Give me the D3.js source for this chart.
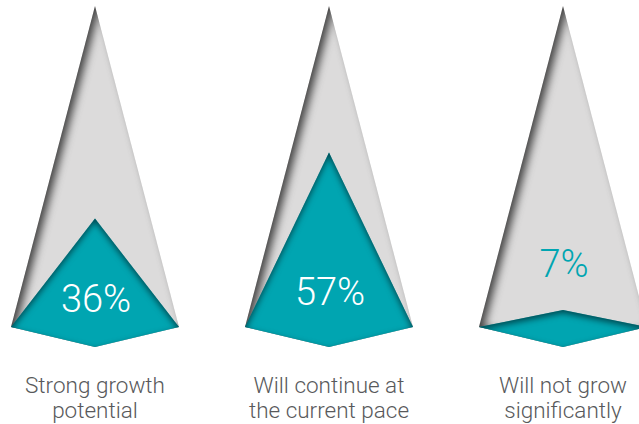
<!DOCTYPE html>
<html>
<head>
<meta charset="utf-8">
<script src="https://cdn.jsdelivr.net/npm/d3@7"></script>
<style>
  html, body { margin: 0; padding: 0; background: #ffffff; }
  svg { display: block; }
</style>
</head>
<body>
<svg id="chart" width="639" height="424"></svg>
<script>
// Outlook on growth: share of respondents per answer
const categories = ["Strong growth potential", "Will continue at the current pace", "Will not grow significantly"];
const labelLines = [["Strong growth", "potential"], ["Will continue at", "the current pace"], ["Will not grow", "significantly"]];
const values = [36, 57, 7];
const valueLabels = ["36%", "57%", "7%"];

const width = 639, height = 424;
const svg = d3.select("#chart");

const GRAY = "#dcdbdb";
const TEAL = "#00a5b1";
const TEXT = "#58595b";

// Pyramid geometry
const halfW = 84;       // half the base width
const baseY = 327;      // y of the left/right base corners
const frontY = 347;     // y of the front base corner
const apexY = 6;        // y of the tip

const x = d3.scalePoint().domain(categories).range([95, 563]);
// fill level: percentage -> y of the teal tip on the pyramid's centre line
const y = d3.scaleLinear().domain([0, 100]).range([332, 17]);

// Inner shadow filters (shadow cast inward from the shape's edges)
const defs = svg.append("defs");
function innerShadow(id, dx, dy, blur, color, opacity) {
  const f = defs.append("filter").attr("id", id)
    .attr("filterUnits", "userSpaceOnUse")
    .attr("x", -50).attr("y", -50).attr("width", width + 100).attr("height", height + 100)
    .attr("color-interpolation-filters", "sRGB");
  f.append("feFlood").attr("flood-color", "#000").attr("flood-opacity", 1).attr("result", "full");
  f.append("feComposite").attr("in", "full").attr("in2", "SourceAlpha").attr("operator", "out").attr("result", "inv");
  f.append("feGaussianBlur").attr("in", "inv").attr("stdDeviation", blur).attr("result", "blur");
  f.append("feOffset").attr("in", "blur").attr("dx", dx).attr("dy", dy).attr("result", "off");
  f.append("feFlood").attr("flood-color", color).attr("flood-opacity", opacity).attr("result", "col");
  f.append("feComposite").attr("in", "col").attr("in2", "off").attr("operator", "in").attr("result", "shadow");
  f.append("feComposite").attr("in", "shadow").attr("in2", "SourceAlpha").attr("operator", "in").attr("result", "inner");
  const m = f.append("feMerge");
  m.append("feMergeNode").attr("in", "SourceGraphic");
  m.append("feMergeNode").attr("in", "inner");
}
innerShadow("shadeGray", 5, 0, 4, "#262626", 0.85);
innerShadow("shadeTeal", 0, 3, 3, "#00333a", 0.8);

const line = d3.line();

const g = svg.selectAll("g.pyramid")
  .data(categories.map((c, i) => ({ c, i, v: values[i], label: valueLabels[i], lines: labelLines[i] })))
  .join("g")
  .attr("class", "pyramid");

// gray body of the pyramid
g.append("path")
  .attr("d", d => {
    const cx = x(d.c);
    return line([[cx - halfW, baseY], [cx, apexY], [cx + halfW, baseY], [cx, frontY]]) + "Z";
  })
  .attr("fill", GRAY)
  .attr("filter", "url(#shadeGray)");

// teal fill level
g.append("path")
  .attr("d", d => {
    const cx = x(d.c);
    return line([[cx - halfW, baseY], [cx, y(d.v)], [cx + halfW, baseY], [cx, frontY]]) + "Z";
  })
  .attr("fill", TEAL)
  .attr("filter", "url(#shadeTeal)");

// percentage labels: inside the teal when there is room, above it otherwise
g.append("text")
  .attr("x", d => x(d.c) + 1)
  .attr("y", d => d.v > 20 ? 324 - d.v / 3 : y(d.v) - 33)
  .attr("text-anchor", "middle")
  .attr("font-family", "Roboto, 'Noto Sans', sans-serif")
  .attr("font-weight", 300)
  .attr("font-size", 38)
  .attr("fill", d => d.v > 20 ? "#ffffff" : TEAL)
  .text(d => d.label);

// category labels
const cat = g.append("text")
  .attr("text-anchor", "middle")
  .attr("font-family", "Roboto, 'Noto Sans', sans-serif")
  .attr("font-weight", 300)
  .attr("font-size", 22.5)
  .attr("fill", TEXT);
cat.selectAll("tspan")
  .data(d => d.lines.map(t => ({ t, cx: x(d.c) })))
  .join("tspan")
  .attr("x", d => d.cx)
  .attr("y", (d, j) => 393 + j * 25)
  .text(d => d.t);
</script>
</body>
</html>
